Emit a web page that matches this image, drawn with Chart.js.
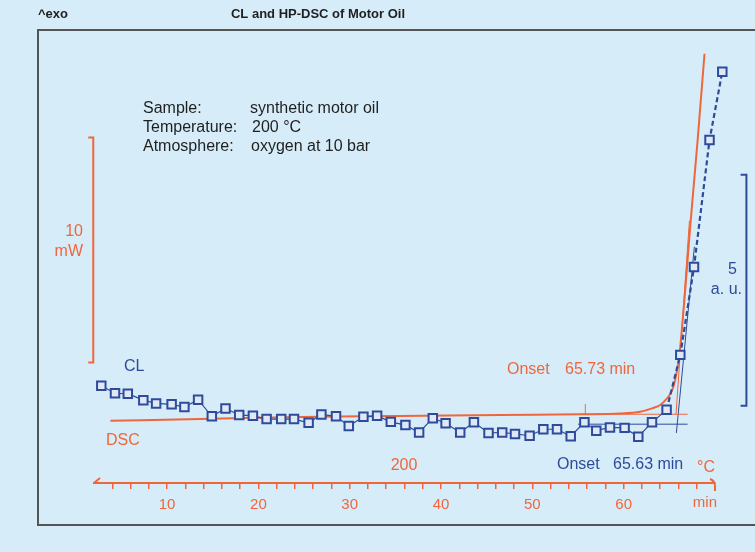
<!DOCTYPE html>
<html>
<head>
<meta charset="utf-8">
<script src="https://cdn.jsdelivr.net/npm/chart.js@4.4.1/dist/chart.umd.min.js"></script>
<style>
  html, body { margin: 0; padding: 0; background: #d6edf9; }
  #wrap { width: 755px; height: 552px; }
</style>
</head>
<body>
<div id="wrap"><canvas id="chart" width="755" height="552"></canvas></div>
<script>
// CL signal (a.u.) against time (min)
const clTime = [2.8, 4.3, 5.7, 7.4, 8.8, 10.5, 11.9, 13.4, 14.9, 16.4, 17.9, 19.4, 20.9, 22.5, 23.9,
  25.5, 26.9, 28.5, 29.9, 31.5, 33.0, 34.5, 36.1, 37.6, 39.1, 40.5, 42.1, 43.6, 45.2, 46.7,
  48.1, 49.7, 51.2, 52.7, 54.2, 55.7, 57.0, 58.5, 60.1, 61.6, 63.1, 64.7, 66.2, 67.7, 69.4, 70.8];
const clSignal = [0.73, 0.57, 0.56, 0.42, 0.35, 0.33, 0.27, 0.43, 0.07, 0.24, 0.10, 0.08, 0.01, 0.01, 0.01,
  -0.07, 0.11, 0.07, -0.14, 0.06, 0.08, -0.05, -0.12, -0.28, 0.03, -0.08, -0.28, -0.06, -0.29, -0.28,
  -0.31, -0.35, -0.21, -0.21, -0.36, -0.06, -0.24, -0.17, -0.18, -0.37, -0.06, 0.21, 1.40, 3.30, 6.05, 7.53];

// HP-DSC heat flow (mW) against time (min)
const dscTime = [3.8, 13.6, 24.6, 35.5, 46.5, 55.3, 59.6, 61.8, 63.1, 64.0, 64.7, 65.1, 65.5, 65.85,
  66.1, 66.65, 67.3, 68.1, 68.85];
const dscHeatFlow = [-0.09, -0.01, 0.08, 0.12, 0.17, 0.20, 0.23, 0.31, 0.46, 0.61, 0.88, 1.10, 1.50, 2.17,
  2.83, 5.28, 8.61, 12.39, 16.22];

// onset construction lines
const dscBaseline = [{ x: 55.3, y: 0.2 }, { x: 67.0, y: 0.2 }];
const dscTangent = [{ x: 65.73, y: 0.2 }, { x: 67.2, y: 8.8 }];
const dscMark = [{ x: 55.8, y: 0.18 }, { x: 55.8, y: 0.65 }];
const clBaseline = [{ x: 55.0, y: -0.1 }, { x: 67.0, y: -0.1 }];
const clTangent = [{ x: 65.77, y: -0.29 }, { x: 67.74, y: 3.74 }];

// scale bars
const dscBar = [{ x: 1.37, y: 12.5 }, { x: 1.92, y: 12.5 }, { x: 1.92, y: 2.5 }, { x: 1.37, y: 2.5 }];
const clBar = [{ x: 72.8, y: 5.3 }, { x: 73.44, y: 5.3 }, { x: 73.44, y: 0.3 }, { x: 72.8, y: 0.3 }];

const ORANGE = '#f0663c';
const BLUE = '#2e4b9b';
const INK = '#1f1f1f';
const FONT = '"Liberation Sans", Arial, sans-serif';

function txt(ctx, s, x, y, color, size, align, bold) {
  ctx.fillStyle = color;
  ctx.font = (bold ? 'bold ' : '') + size + 'px ' + FONT;
  ctx.textAlign = align || 'left';
  ctx.textBaseline = 'middle';
  ctx.fillText(s, x, y);
}

const decor = {
  id: 'decor',
  beforeDraw(chart) {
    const ctx = chart.ctx;
    ctx.save();
    ctx.fillStyle = '#d6edf9';
    ctx.fillRect(0, 0, chart.width, chart.height);
    ctx.strokeStyle = '#555';
    ctx.lineWidth = 2;
    ctx.beginPath();
    ctx.moveTo(760, 30);
    ctx.lineTo(38, 30);
    ctx.lineTo(38, 525);
    ctx.lineTo(760, 525);
    ctx.stroke();
    ctx.restore();
  },
  afterDraw(chart) {
    const ctx = chart.ctx;
    const xs = chart.scales.x;
    const area = chart.chartArea;
    ctx.save();
    // arrow hooks on the time axis
    ctx.strokeStyle = ORANGE;
    ctx.lineWidth = 2;
    const x0 = xs.getPixelForValue(2);
    const x1 = xs.getPixelForValue(70);
    const yb = area.bottom;
    ctx.beginPath();
    ctx.moveTo(x0 + 6, yb - 5);
    ctx.lineTo(x0, yb);
    ctx.moveTo(x1 - 5, yb - 4);
    ctx.quadraticCurveTo(x1, yb - 2, x1, yb + 3);
    ctx.lineTo(x1, yb + 8);
    ctx.stroke();

    txt(ctx, '^exo', 38, 14, INK, 13, 'left', true);
    txt(ctx, 'CL and HP-DSC of Motor Oil', 318, 14, INK, 13, 'center', true);

    txt(ctx, 'Sample:', 143, 109, INK, 16);
    txt(ctx, 'synthetic motor oil', 250, 109, INK, 16);
    txt(ctx, 'Temperature:', 143, 128, INK, 16);
    txt(ctx, '200 \u00b0C', 252, 128, INK, 16);
    txt(ctx, 'Atmosphere:', 143, 147, INK, 16);
    txt(ctx, 'oxygen at 10 bar', 251, 147, INK, 16);

    txt(ctx, '10', 83, 232, ORANGE, 16, 'right');
    txt(ctx, 'mW', 83, 252, ORANGE, 16, 'right');
    txt(ctx, '5', 737, 270, BLUE, 16, 'right');
    txt(ctx, 'a. u.', 742, 290, BLUE, 16, 'right');

    txt(ctx, 'CL', 124, 367, BLUE, 16);
    txt(ctx, 'DSC', 106, 441, ORANGE, 16);
    txt(ctx, 'Onset', 507, 370, ORANGE, 16);
    txt(ctx, '65.73 min', 565, 370, ORANGE, 16);
    txt(ctx, '200', 404, 466, ORANGE, 16, 'center');
    txt(ctx, 'Onset', 557, 465, BLUE, 16);
    txt(ctx, '65.63 min', 613, 465, BLUE, 16);
    txt(ctx, '\u00b0C', 697, 468, ORANGE, 16);
    txt(ctx, 'min', 717, 503, ORANGE, 15, 'right');
    ctx.restore();
  }
};

function thin(data, color, axis, width) {
  return {
    data: data, yAxisID: axis, borderColor: color, borderWidth: width || 1,
    pointRadius: 0, fill: false, clip: false, order: 3
  };
}

new Chart(document.getElementById('chart'), {
  type: 'line',
  data: {
    datasets: [
      {
        label: 'DSC',
        data: dscTime.map((t, i) => ({ x: t, y: dscHeatFlow[i] })),
        yAxisID: 'yDsc',
        borderColor: ORANGE,
        borderWidth: 2,
        cubicInterpolationMode: 'monotone',
        pointRadius: 0,
        clip: false,
        order: 2
      },
      {
        label: 'CL',
        data: clTime.map((t, i) => ({ x: t, y: clSignal[i] })),
        yAxisID: 'yCl',
        borderColor: BLUE,
        borderWidth: 1.2,
        tension: 0,
        pointStyle: 'rect',
        pointRadius: 6,
        pointBorderWidth: 2,
        pointBorderColor: BLUE,
        pointBackgroundColor: '#dfe9f6',
        clip: false,
        order: 1,
        segment: {
          borderDash: c => (c.p0DataIndex >= 41 ? [5, 3] : undefined),
          borderWidth: c => (c.p0DataIndex >= 41 ? 2.2 : 1.2)
        }
      },
      thin(dscBaseline, ORANGE, 'yDsc'),
      thin(dscTangent, ORANGE, 'yDsc'),
      thin(dscMark, ORANGE, 'yDsc'),
      thin(clBaseline, BLUE, 'yCl'),
      thin(clTangent, BLUE, 'yCl'),
      thin(dscBar, ORANGE, 'yDsc', 2),
      thin(clBar, BLUE, 'yCl', 2)
    ]
  },
  options: {
    responsive: false,
    animation: false,
    events: [],
    layout: { padding: { left: 94, right: 40, top: 40, bottom: 10 } },
    plugins: { legend: { display: false }, tooltip: { enabled: false }, title: { display: false } },
    scales: {
      x: {
        type: 'linear',
        min: 2,
        max: 70,
        afterFit(s) { s.height = 59; },
        border: { display: true, color: ORANGE, width: 2 },
        grid: {
          drawOnChartArea: false,
          drawTicks: true,
          tickLength: 6,
          lineWidth: 1.5,
          color: c => (c.tick && (c.tick.value === 2 || c.tick.value === 70) ? 'rgba(0,0,0,0)' : ORANGE)
        },
        ticks: {
          stepSize: 2,
          autoSkip: false,
          maxRotation: 0,
          padding: 7,
          color: ORANGE,
          font: { family: FONT, size: 15 },
          callback: v => (v % 10 === 0 && v < 70 ? String(v) : '')
        }
      },
      yDsc: { display: false, min: -2.856, max: 16.833 },
      yCl: { display: false, min: -1.373, max: 8.215 }
    }
  },
  plugins: [decor]
});
</script>
</body>
</html>
